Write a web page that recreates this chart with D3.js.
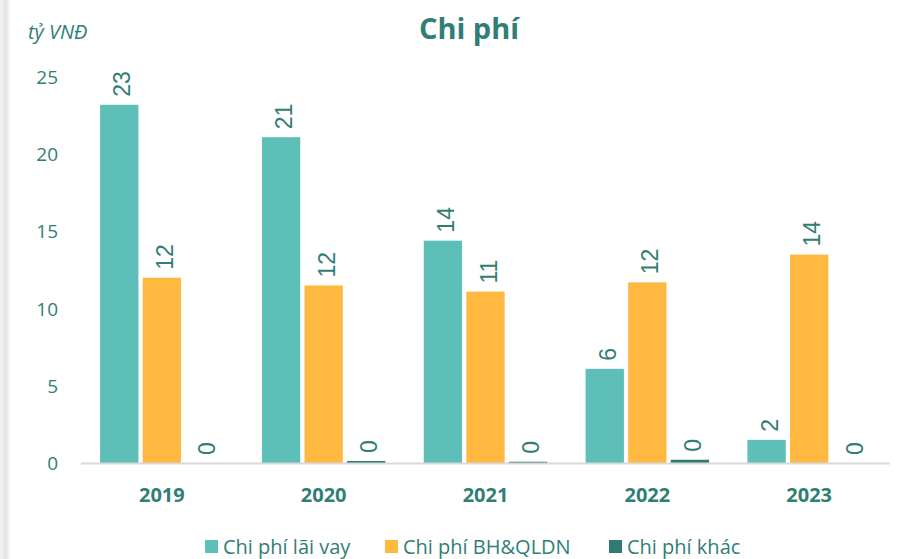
<!DOCTYPE html>
<html>
<head>
<meta charset="utf-8">
<script src="https://cdn.jsdelivr.net/npm/d3@7"></script>
<style>
  body { margin: 0; background: #fff; }
  svg { display: block; }
</style>
</head>
<body>
<svg id="chart" width="901" height="559"></svg>
<script>
'use strict';
const years = ['2019', '2020', '2021', '2022', '2023'];
const seriesNames = ['Chi phí lãi vay', 'Chi phí BH&QLDN', 'Chi phí khác'];
const laiVay = [23.2, 21.1, 14.4, 6.1, 1.5];
const bhQldn = [12.0, 11.5, 11.1, 11.7, 13.5];
const khac = [0, 0.13, 0.08, 0.21, 0];
const labelsLaiVay = ['23', '21', '14', '6', '2'];
const labelsBh = ['12', '12', '11', '12', '14'];
const labelsKhac = ['0', '0', '0', '0', '0'];
const yTicks = [0, 5, 10, 15, 20, 25];

const COLORS = ['#5dbfb8', '#ffb940', '#2e7b73'];
const TEXT = '#317e75';

const svg = d3.select('#chart');
const margin = { left: 81, right: 11, top: 77, bottom: 96 };
const W = 901, H = 559;

// left shadow edge
const grad = svg.append('defs').append('linearGradient').attr('id', 'edge');
grad.append('stop').attr('offset', 0).attr('stop-color', '#f4f4f4');
grad.append('stop').attr('offset', 0.6).attr('stop-color', '#e2e2e2');
grad.append('stop').attr('offset', 1).attr('stop-color', '#fbfbfb');
svg.append('rect').attr('x', 0).attr('y', 0).attr('width', 10).attr('height', H).attr('fill', 'url(#edge)');

const x = d3.scaleBand().domain(years).range([margin.left, W - margin.right]).paddingInner(0.237).paddingOuter(0.118);
const xs = d3.scaleBand().domain([0, 1, 2]).range([0, x.bandwidth()]).paddingInner(0.1);
const y = d3.scaleLinear().domain([0, 25]).range([H - margin.bottom, margin.top]);

const rows = [laiVay, bhQldn, khac];
const labels = [labelsLaiVay, labelsBh, labelsKhac];

// y axis tick labels
svg.append('g')
  .selectAll('text').data(yTicks).enter().append('text')
    .attr('x', 58)
    .attr('y', d => y(d) + 7)
    .attr('text-anchor', 'end')
    .attr('font-family', 'Open Sans')
    .attr('font-size', 19)
    .attr('fill', TEXT)
    .text(d => d);

// bars
rows.forEach((vals, s) => {
  const g = svg.append('g');
  g.selectAll('rect').data(vals).enter().append('rect')
    .attr('x', (d, i) => x(years[i]) + xs(s))
    .attr('y', d => y(d))
    .attr('width', xs.bandwidth())
    .attr('height', d => y(0) - y(d))
    .attr('fill', COLORS[s]);
  g.selectAll('text').data(vals).enter().append('text')
    .attr('transform', (d, i) =>
      `translate(${x(years[i]) + xs(s) + xs.bandwidth() / 2 + 11}, ${y(d) - 8}) rotate(-90)`)
    .attr('font-family', 'Liberation Sans')
    .attr('font-size', 23)
    .attr('fill', TEXT)
    .text((d, i) => labels[s][i]);
});

// baseline
svg.append('line')
  .attr('x1', margin.left).attr('x2', W - margin.right)
  .attr('y1', y(0) + 0.5).attr('y2', y(0) + 0.5)
  .attr('stroke', '#d9d9d9').attr('stroke-width', 2);

// category labels
svg.append('g')
  .selectAll('text').data(years).enter().append('text')
    .attr('x', d => x(d) + x.bandwidth() / 2)
    .attr('y', 502)
    .attr('text-anchor', 'middle')
    .attr('font-family', 'Open Sans')
    .attr('font-weight', 'bold')
    .attr('font-size', 20)
    .attr('fill', TEXT)
    .text(d => d);

// title & unit
svg.append('text')
  .attr('x', 469).attr('y', 39)
  .attr('text-anchor', 'middle')
  .attr('font-family', 'Open Sans')
  .attr('font-weight', 'bold')
  .attr('font-size', 29)
  .attr('fill', TEXT)
  .text('Chi phí');
svg.append('text')
  .attr('x', 28).attr('y', 39)
  .attr('font-family', 'Open Sans')
  .attr('font-style', 'italic')
  .attr('font-size', 20)
  .attr('fill', TEXT)
  .text('tỷ VNĐ');

// legend
const legendX = [205, 385, 609];
const leg = svg.append('g').selectAll('g').data(seriesNames).enter().append('g')
  .attr('transform', (d, i) => `translate(${legendX[i]}, 540)`);
leg.append('rect').attr('width', 13).attr('height', 13).attr('fill', (d, i) => COLORS[i]);
leg.append('text')
  .attr('x', 18).attr('y', 14)
  .attr('font-family', 'Open Sans')
  .attr('font-size', 20)
  .attr('fill', TEXT)
  .text(d => d);
</script>
</body>
</html>
